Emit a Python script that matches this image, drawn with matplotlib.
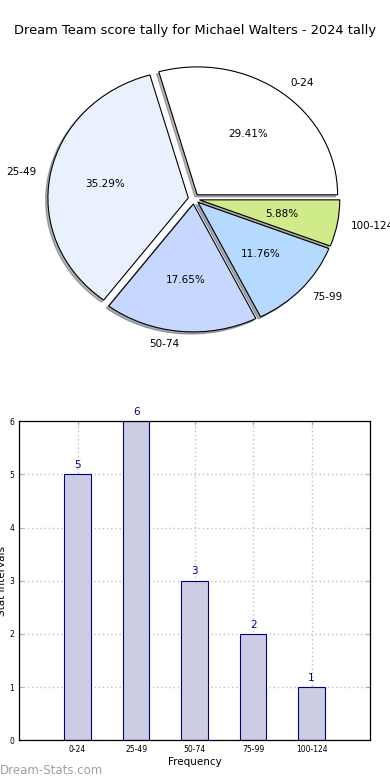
import matplotlib
matplotlib.use("Agg")
import matplotlib.pyplot as plt
import numpy as np

categories = ["0-24", "25-49", "50-74", "75-99", "100-124"]
counts = [5, 6, 3, 2, 1]
pie_colors = ["#ffffff", "#eaf1fe", "#c6d8ff", "#b5d9ff", "#cfeb8a"]
title = "Dream Team score tally for Michael Walters - 2024 tally"

fig = plt.figure(figsize=(3.9, 7.8), dpi=100)

# Pie
ax1 = fig.add_axes([0.047, 0.54, 0.9, 0.41])
wedges, texts, autotexts = ax1.pie(
    counts, labels=categories, colors=pie_colors, autopct="%1.2f%%",
    explode=[0.04] * len(counts),
    shadow=dict(ox=-0.012, oy=-0.012, shade=0.6), startangle=0,
    wedgeprops=dict(edgecolor="black", linewidth=0.8),
    textprops=dict(fontsize=7.5))
ax1.set_aspect("auto")
ax1.set_xlim(-1.25, 1.25)
ax1.set_ylim(-1.25, 1.25)
fig.text(0.5, 0.961, title, ha="center", va="center", fontsize=9.4)

# Bars
ax2 = fig.add_axes([0.049, 0.051, 0.9, 0.409])
x = np.arange(len(categories))
ax2.bar(x, counts, width=0.45, color="#ccccE5", edgecolor="#000080", linewidth=0.8, zorder=2)
for xi, c in zip(x, counts):
    ax2.text(xi, c + 0.08, str(c), ha="center", va="bottom", fontsize=7.5, color="#00008b")
ax2.set_xlim(-1, 5)
ax2.set_ylim(0, 6)
ax2.set_xticks(x)
ax2.set_xticklabels(categories, fontsize=5.5)
ax2.set_yticks(range(7))
ax2.tick_params(axis="y", labelsize=5.5)
ax2.tick_params(direction="in", length=3, color="#aaaaaa", top=True, right=True)
ax2.grid(True, linestyle=(0, (1, 2)), color="#c0c0c0", linewidth=1.0, zorder=0)
ax2.set_axisbelow(True)
ax2.set_xlabel("Frequency", fontsize=7.5, labelpad=2)
ax2.set_ylabel("Stat Intervals", fontsize=7.5, labelpad=2)
for s in ax2.spines.values():
    s.set_linewidth(0.9)

fig.text(0.0, 0.012, "Dream-Stats.com", fontsize=8.5, color="#a0a0a0", ha="left", va="center")

fig.savefig("out.png", dpi=100)
